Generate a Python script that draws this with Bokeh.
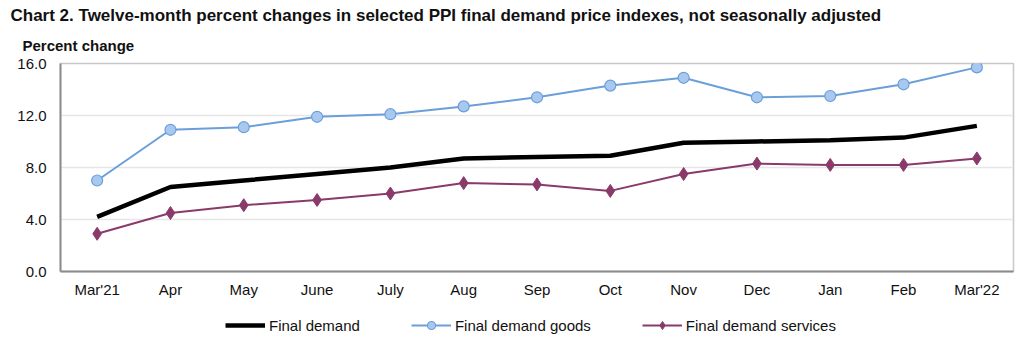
from bokeh.plotting import figure
from bokeh.layouts import column
from bokeh.models import (Legend, LegendItem, FixedTicker, Range1d, ColumnDataSource,
                          Title, CustomJSTickFormatter, FactorRange)
from bokeh.embed import file_html
from bokeh.resources import INLINE

months = ["Mar'21", "Apr", "May", "June", "July", "Aug", "Sep", "Oct", "Nov", "Dec", "Jan", "Feb", "Mar'22"]
final_demand = [4.2, 6.5, 7.0, 7.5, 8.0, 8.7, 8.8, 8.9, 9.9, 10.0, 10.1, 10.3, 11.2]
final_demand_goods = [7.0, 10.9, 11.1, 11.9, 12.1, 12.7, 13.4, 14.3, 14.9, 13.4, 13.5, 14.4, 15.7]
final_demand_services = [2.9, 4.5, 5.1, 5.5, 6.0, 6.8, 6.7, 6.2, 7.5, 8.3, 8.2, 8.2, 8.7]
y_ticks = [0, 4, 8, 12, 16]
series_names = ["Final demand", "Final demand goods", "Final demand services"]

FONT = "Liberation Sans"
C_FD = "black"
C_G = "#6b9fd9"
C_G_FILL = "#a8c8f0"
C_S = "#8a3a6a"

src = ColumnDataSource(dict(m=months, fd=final_demand, g=final_demand_goods, s=final_demand_services))


def draw_series(fig):
    r_fd = fig.line("m", "fd", source=src, line_color=C_FD, line_width=4.5)
    r_g = fig.line("m", "g", source=src, line_color=C_G, line_width=2)
    r_gm = fig.scatter("m", "g", source=src, marker="circle", size=11, fill_color=C_G_FILL,
                       line_color=C_G, line_width=1.2)
    r_s = fig.line("m", "s", source=src, line_color=C_S, line_width=2)
    r_sm = fig.scatter("m", "s", source=src, marker="diamond", size=13, fill_color=C_S, line_color=C_S)
    return [[r_fd], [r_g, r_gm], [r_s, r_sm]]


p = figure(width=1020, height=305, x_range=months, y_range=Range1d(0, 16),
           output_backend="svg", toolbar_location=None,
           min_border_left=60, min_border_right=7, min_border_top=63, min_border_bottom=34)

p.outline_line_color = "#c8c8c8"
p.outline_line_width = 1.5
p.background_fill_color = "white"
p.border_fill_color = "white"

p.xgrid.grid_line_color = None
p.ygrid.grid_line_color = "#e6e6e6"
p.ygrid.grid_line_width = 1.5

p.yaxis.ticker = FixedTicker(ticks=y_ticks)
p.yaxis.formatter = CustomJSTickFormatter(code="return tick.toFixed(1);")

for ax in (p.xaxis, p.yaxis):
    ax.major_tick_out = 0
    ax.major_tick_in = 0
    ax.minor_tick_out = 0
    ax.minor_tick_in = 0
    ax.axis_line_color = "#8c8c8c"
    ax.axis_line_width = 2
    ax.major_label_text_font = FONT
    ax.major_label_text_font_size = "15px"
    ax.major_label_text_color = "#111111"
p.yaxis.major_label_standoff = 14
p.xaxis.major_label_standoff = 9

draw_series(p)

p.add_layout(Title(text="Percent change", align="left", offset=-38, standoff=19,
                   text_font=FONT, text_font_size="15px", text_font_style="bold",
                   text_color="#111111"), "above")
p.add_layout(Title(text="Chart 2. Twelve-month percent changes in selected PPI final demand price indexes, not seasonally adjusted",
                   align="left", offset=-50, standoff=2,
                   text_font=FONT, text_font_size="17px", text_font_style="bold",
                   text_color="#111111"), "above")

# legend strip below the chart (series drawn out of view, only legend visible)
q = figure(width=1020, height=40, x_range=FactorRange(*months), y_range=Range1d(-200, -199),
           x_axis_type=None, y_axis_type=None, output_backend="svg", toolbar_location=None,
           min_border=0)
q.outline_line_color = None
q.xgrid.grid_line_color = None
q.ygrid.grid_line_color = None
rends = draw_series(q)

legend = Legend(items=[LegendItem(label=n, renderers=r) for n, r in zip(series_names, rends)],
                orientation="horizontal", location=(165, 10))
legend.label_text_font = FONT
legend.label_text_font_size = "15px"
legend.label_text_color = "#111111"
legend.glyph_width = 40
legend.glyph_height = 20
legend.label_height = 20
legend.label_standoff = 4
legend.spacing = 51
legend.padding = 0
legend.margin = 0
legend.border_line_alpha = 0
legend.background_fill_alpha = 0
q.add_layout(legend, "center")

layout = column(p, q, spacing=0)
open("out.html", "w").write(file_html(layout, INLINE))
